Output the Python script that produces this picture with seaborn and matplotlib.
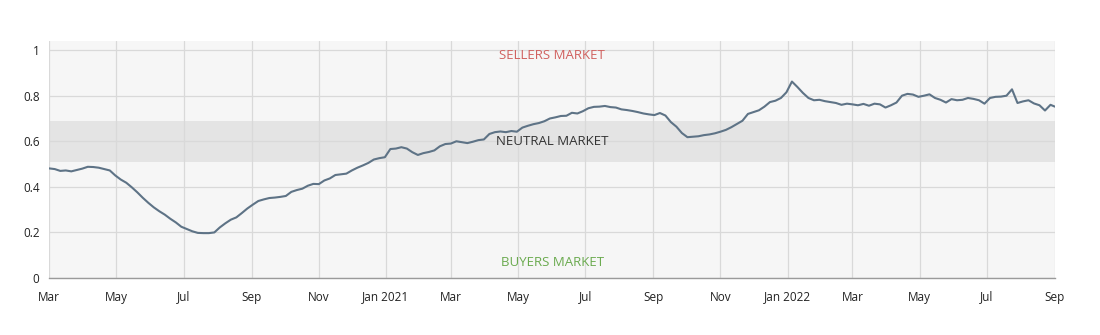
import numpy as np
import pandas as pd
import matplotlib
matplotlib.use("Agg")
import matplotlib.pyplot as plt
import matplotlib.dates as mdates
import matplotlib.ticker as mticker
import seaborn as sns

# ---- data (one value every 5 days from 2020-03-01, last at 2022-09-01)
start_date = "2020-03-01"
end_date = "2022-09-01"
ratio = [
    0.481, 0.478, 0.470, 0.472, 0.468, 0.474, 0.480, 0.488, 0.487, 0.484,
    0.478, 0.472, 0.450, 0.432, 0.418, 0.398, 0.376, 0.352, 0.330, 0.310,
    0.293, 0.278, 0.260, 0.244, 0.225, 0.215, 0.205, 0.198, 0.197, 0.197,
    0.200, 0.222, 0.240, 0.256, 0.266, 0.285, 0.305, 0.322, 0.338, 0.345,
    0.351, 0.353, 0.356, 0.360, 0.378, 0.386, 0.392, 0.405, 0.413, 0.412,
    0.428, 0.437, 0.452, 0.455, 0.458, 0.472, 0.484, 0.494, 0.505, 0.520,
    0.526, 0.530, 0.566, 0.568, 0.574, 0.568, 0.552, 0.540, 0.548, 0.553,
    0.560, 0.578, 0.588, 0.590, 0.600, 0.596, 0.592, 0.598, 0.605, 0.608,
    0.632, 0.640, 0.643, 0.640, 0.645, 0.642, 0.660, 0.668, 0.675, 0.680,
    0.688, 0.700, 0.705, 0.711, 0.712, 0.725, 0.722, 0.732, 0.745, 0.751,
    0.752, 0.755, 0.750, 0.748, 0.740, 0.737, 0.733, 0.728, 0.722, 0.718,
    0.715, 0.724, 0.713, 0.684, 0.664, 0.636, 0.618, 0.620, 0.622, 0.627,
    0.630, 0.635, 0.642, 0.650, 0.662, 0.676, 0.690, 0.720, 0.728, 0.736,
    0.752, 0.772, 0.778, 0.790, 0.815, 0.862, 0.838, 0.812, 0.790, 0.780,
    0.782, 0.776, 0.772, 0.768, 0.760, 0.765, 0.762, 0.758, 0.764, 0.756,
    0.765, 0.762, 0.748, 0.758, 0.770, 0.800, 0.808, 0.805, 0.795, 0.800,
    0.806, 0.790, 0.782, 0.770, 0.785, 0.780, 0.782, 0.790, 0.786, 0.780,
    0.765, 0.790, 0.795, 0.796, 0.800, 0.828, 0.768, 0.775, 0.780, 0.766,
    0.758, 0.735, 0.760, 0.752,
]
yticks = [0, 0.2, 0.4, 0.6, 0.8, 1]
ytick_labels = ["0", "0.2", "0.4", "0.6", "0.8", "1"]
neutral_band = (0.51, 0.69)
zone_labels = ["SELLERS MARKET", "NEUTRAL MARKET", "BUYERS MARKET"]
zone_label_y = [0.978, 0.60, 0.066]
zone_colors = ["#d0605e", "#333333", "#6aaa4e"]

dates = list(pd.date_range(start_date, periods=len(ratio) - 1, freq="5D")) + [pd.Timestamp(end_date)]
df = pd.DataFrame({"date": dates, "ratio": ratio})

sns.set_theme(style="white")
plt.rcParams["font.family"] = ["Open Sans", "DejaVu Sans"]

fig = plt.figure(figsize=(11, 3.35), dpi=100)
ax = fig.add_axes([0.0448, 0.1701, 0.9142, 0.7075])
ax.set_facecolor("#f6f6f6")

ax.axhspan(*neutral_band, color="#e4e4e4", zorder=0.5, lw=0)

sns.lineplot(data=df, x="date", y="ratio", ax=ax, color="#5e7386",
             linewidth=1.5, zorder=3)

ax.set_xlim(pd.Timestamp(start_date), pd.Timestamp(end_date))
ax.set_ylim(0, 1.04)
ax.set_yticks(yticks)
ax.set_yticklabels(ytick_labels)

ax.xaxis.set_major_locator(mdates.MonthLocator(bymonth=[1, 3, 5, 7, 9, 11]))
def fmt(x, pos):
    d = mdates.num2date(x)
    return d.strftime("%b %Y") if d.month == 1 else d.strftime("%b")
ax.xaxis.set_major_formatter(mticker.FuncFormatter(fmt))

ax.grid(True, color="#d9d9d9", linewidth=0.9, zorder=1)
ax.set_axisbelow(True)
ax.tick_params(axis="both", length=0, labelsize=8.5, colors="#222222")
ax.tick_params(axis="x", pad=9)
ax.tick_params(axis="y", pad=7)
for s in ["top", "right", "left"]:
    ax.spines[s].set_visible(False)
ax.spines["bottom"].set_color("#9a9a9a")
ax.spines["bottom"].set_linewidth(1.0)
ax.set_xlabel("")
ax.set_ylabel("")

trans = matplotlib.transforms.blended_transform_factory(ax.transAxes, ax.transData)
for lab, yv, c in zip(zone_labels, zone_label_y, zone_colors):
    ax.text(0.5, yv, lab, transform=trans, ha="center", va="center",
            fontsize=9.5, color=c, zorder=4)

fig.savefig("out.png", dpi=100)
